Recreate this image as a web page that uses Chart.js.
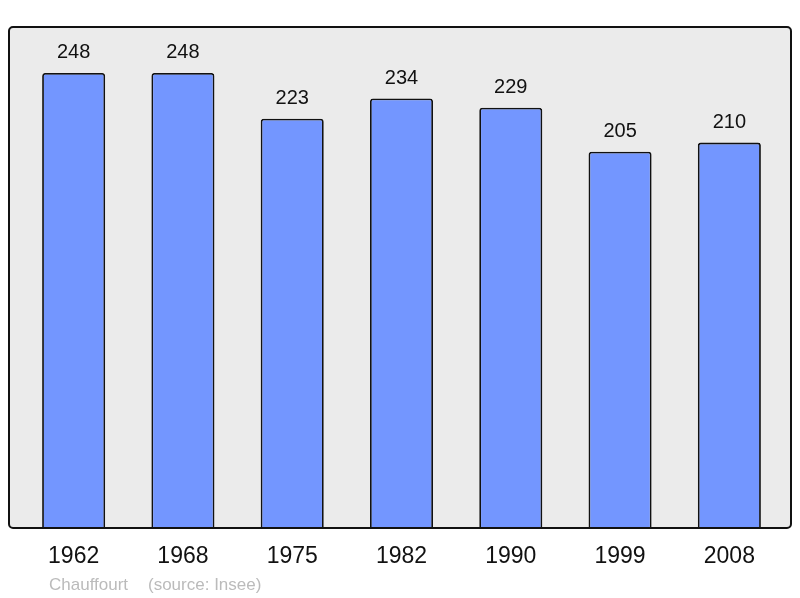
<!DOCTYPE html>
<html>
<head>
<meta charset="utf-8">
<script src="https://cdn.jsdelivr.net/npm/chart.js@4/dist/chart.umd.min.js"></script>
<style>
  html, body { margin: 0; padding: 0; background: #fff; }
  #wrap { width: 800px; height: 598px; }
</style>
</head>
<body>
<div id="wrap"><canvas id="chart"></canvas></div>
<script>
const years = ['1962', '1968', '1975', '1982', '1990', '1999', '2008'];
const population = [248, 248, 223, 234, 229, 205, 210];
const commune = 'Chauffourt';
const source = '(source: Insee)';

const FONT = '"Liberation Sans", Arial, sans-serif';

// gray panel with black frame behind the bars
const panelPlugin = {
    id: 'panel',
    beforeDraw(chart) {
        const { ctx, chartArea } = chart;
        const x0 = chartArea.left - 10, x1 = chartArea.right + 7;
        const y0 = chartArea.top, y1 = chartArea.bottom;
        ctx.save();
        ctx.beginPath();
        ctx.roundRect(x0, y0, x1 - x0, y1 - y0, 4);
        ctx.fillStyle = '#ebebeb';
        ctx.fill();
        ctx.restore();
    },
    afterDatasetsDraw(chart) {
        const { ctx, chartArea } = chart;
        const x0 = chartArea.left - 10, x1 = chartArea.right + 7;
        const y0 = chartArea.top, y1 = chartArea.bottom;
        ctx.save();
        ctx.beginPath();
        ctx.roundRect(x0, y0, x1 - x0, y1 - y0, 4);
        ctx.lineWidth = 2;
        ctx.strokeStyle = '#111';
        ctx.stroke();
        ctx.restore();
    }
};

// value labels above bars, year labels below, footer
const labelsPlugin = {
    id: 'labels',
    afterDraw(chart) {
        const { ctx, chartArea } = chart;
        const meta = chart.getDatasetMeta(0);
        const xScale = chart.scales.x;
        ctx.save();
        ctx.textAlign = 'center';
        ctx.textBaseline = 'alphabetic';
        ctx.fillStyle = '#111';
        ctx.font = '20px ' + FONT;
        meta.data.forEach((bar, i) => {
            ctx.fillText(String(population[i]), bar.x, bar.y - 15);
        });
        ctx.font = '23px ' + FONT;
        ctx.textBaseline = 'middle';
        years.forEach((y, i) => {
            ctx.fillText(y, xScale.getPixelForValue(i), chartArea.bottom + 29);
        });
        ctx.font = '17px ' + FONT;
        ctx.fillStyle = '#bbbbbb';
        ctx.textAlign = 'left';
        ctx.fillText(commune, 49, 585);
        ctx.fillText(source, 148, 585);
        ctx.restore();
    }
};

new Chart(document.getElementById('chart'), {
    type: 'bar',
    data: {
        labels: years,
        datasets: [{
            data: population,
            backgroundColor: '#7396ff',
            borderColor: '#111',
            borderWidth: 1.8,
            borderRadius: { topLeft: 3, topRight: 3, bottomLeft: 0, bottomRight: 0 },
            borderSkipped: 'bottom',
            barPercentage: 0.577,
            categoryPercentage: 1
        }]
    },
    options: {
        responsive: true,
        maintainAspectRatio: false,
        animation: false,
        layout: { padding: { top: 27, left: 19, right: 16, bottom: 70 } },
        plugins: {
            legend: { display: false },
            tooltip: { enabled: false }
        },
        scales: {
            x: { display: false },
            y: { display: false, min: 0, max: 273 }
        }
    },
    plugins: [panelPlugin, labelsPlugin]
});
</script>
</body>
</html>
